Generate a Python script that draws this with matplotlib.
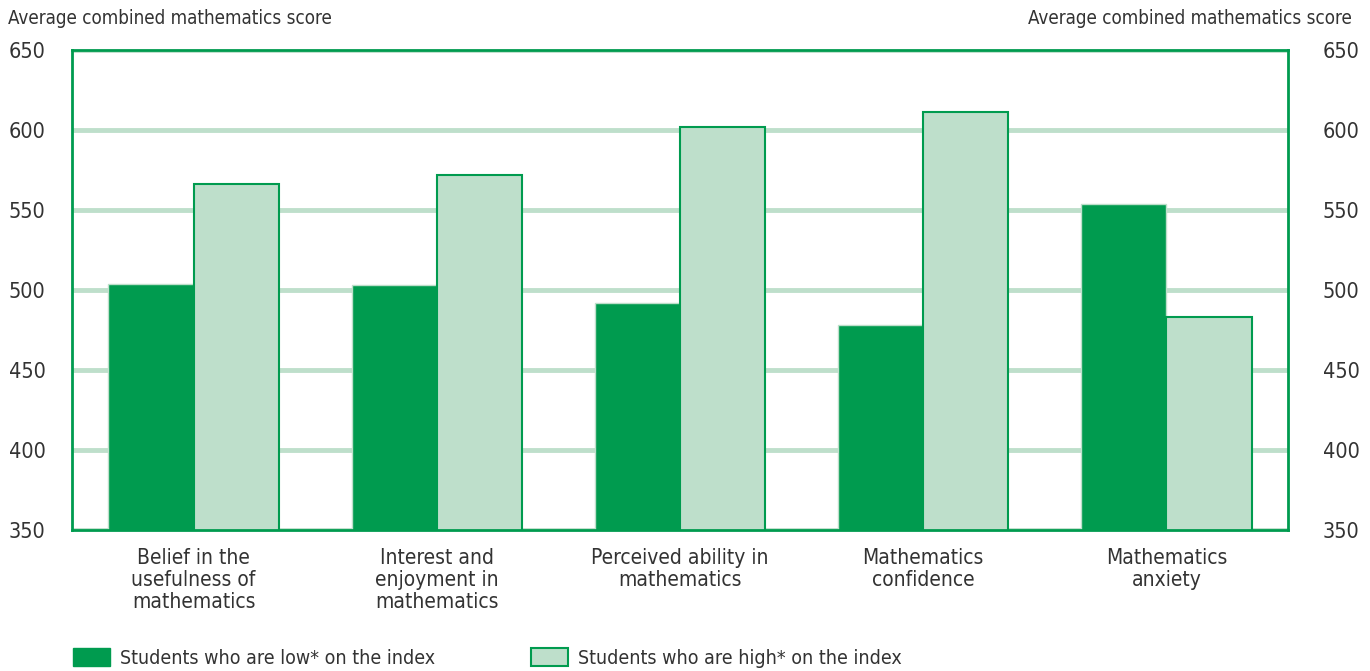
import matplotlib
matplotlib.use("Agg")
import matplotlib.pyplot as plt
from matplotlib.patches import Patch
from matplotlib import font_manager
import numpy as np

# Chart data
CATEGORIES = [
    "Belief in the\nusefulness of\nmathematics",
    "Interest and\nenjoyment in\nmathematics",
    "Perceived ability in\nmathematics",
    "Mathematics\nconfidence",
    "Mathematics\nanxiety",
]
LOW_SCORES = [504, 503, 492, 478, 554]
HIGH_SCORES = [566, 572, 602, 611, 483]
Y_TICKS = [350, 400, 450, 500, 550, 600, 650]

DARK = "#009b4f"
LIGHT = "#bedfcb"
TEXT = "#333333"

# narrow font if there is one, otherwise condensed DejaVu
names = {f.name for f in font_manager.fontManager.ttflist}
if "Liberation Sans Narrow" in names:
    plt.rcParams["font.family"] = ["Liberation Sans Narrow", "DejaVu Sans"]
else:
    plt.rcParams["font.family"] = ["DejaVu Sans"]
    plt.rcParams["font.stretch"] = "condensed"

fig = plt.figure(figsize=(13.7, 6.71), dpi=100)
ax = fig.add_axes([72 / 1370, 141 / 671, 1216 / 1370, 480 / 671])

x = np.arange(len(CATEGORIES))
width = 0.35
ax.bar(x - width / 2, LOW_SCORES, width, color=DARK, edgecolor=LIGHT,
       linewidth=1, zorder=2)
ax.bar(x + width / 2, HIGH_SCORES, width, color=LIGHT, edgecolor=DARK,
       linewidth=1.5, zorder=2)

ax.set_xlim(-0.5, len(CATEGORIES) - 0.5)
ax.set_ylim(350, 650)
ax.set_yticks(Y_TICKS)
ax.set_xticks(x)
ax.set_xticklabels(CATEGORIES, fontsize=15, color=TEXT, linespacing=1.12)
ax.tick_params(axis="x", length=0, pad=13)
ax.tick_params(axis="y", length=0, labelsize=15.5, labelcolor=TEXT, pad=19)

ax.grid(axis="y", color=LIGHT, linewidth=3.5, zorder=1)
ax.set_axisbelow(True)
for s in ax.spines.values():
    s.set_color(DARK)
    s.set_linewidth(2)
    s.set_zorder(3)

# right-hand axis with the same scale
ax2 = ax.twinx()
ax2.set_ylim(ax.get_ylim())
ax2.set_yticks(Y_TICKS)
ax2.tick_params(axis="y", length=0, labelsize=15.5, labelcolor=TEXT, pad=25)
for s in ax2.spines.values():
    s.set_visible(False)

fig.text(8 / 1370, 1 - 19 / 671, "Average combined mathematics score",
         fontsize=13.5, color=TEXT, va="center", ha="left")
fig.text(1352 / 1370, 1 - 19 / 671, "Average combined mathematics score",
         fontsize=13.5, color=TEXT, va="center", ha="right")

handles = [
    Patch(facecolor=DARK, edgecolor=DARK, label="Students who are low* on the index"),
    Patch(facecolor=LIGHT, edgecolor=DARK, linewidth=1.5,
          label="Students who are high* on the index"),
]
fig.legend(handles=handles, loc="lower left", bbox_to_anchor=(55 / 1370, -0.021),
           ncol=2, frameon=False, fontsize=14, labelcolor=TEXT,
           handlelength=1.95, handleheight=1.05, columnspacing=4.9,
           handletextpad=0.5)

fig.savefig("out.png", dpi=100)
